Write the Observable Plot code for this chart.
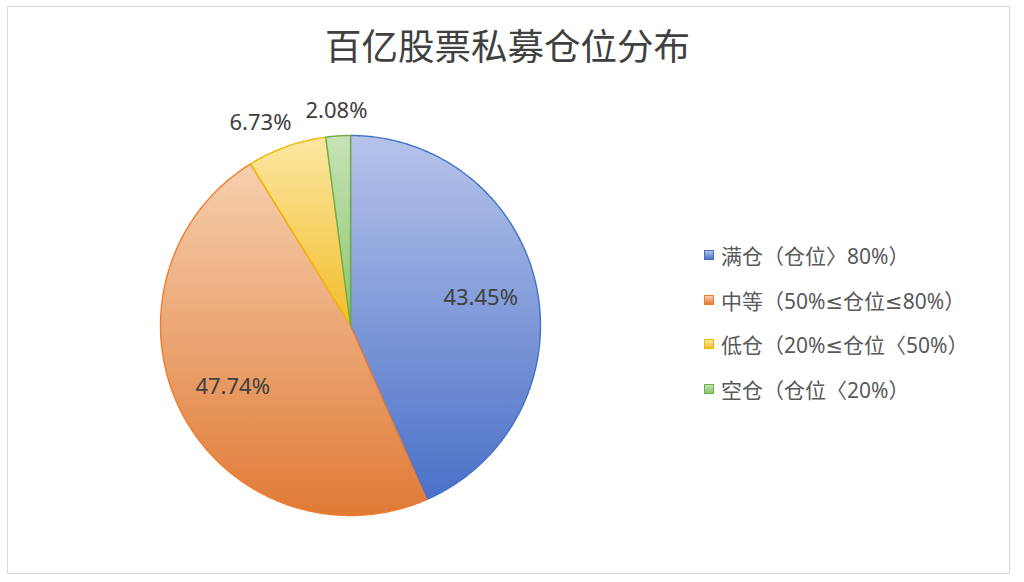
<!DOCTYPE html>
<html>
<head>
<meta charset="utf-8">
<script src="https://cdn.jsdelivr.net/npm/d3@7"></script>
<script src="https://cdn.jsdelivr.net/npm/@observablehq/plot@0.6"></script>
<style>
  html, body { margin: 0; padding: 0; background: #fff; }
  #wrap { position: relative; width: 1024px; height: 582px; overflow: hidden; font-family: "Noto Sans", "Noto Sans CJK SC", sans-serif; }
  #frame { position: absolute; left: 7px; top: 6px; width: 1003px; height: 568px; border: 1px solid #d9d9d9; box-sizing: border-box; }
  #title { position: absolute; left: 0; top: 20px; width: 1015px; text-align: center; font-size: 36.5px; color: #404040; line-height: 50px; font-family: "Noto Sans CJK SC", sans-serif; }
  #chart { position: absolute; left: 0; top: 0; }
  #legend { position: absolute; left: 704px; top: 233px; }
  .item { display: flex; align-items: center; height: 44.5px; font-size: 21px; color: #595959; white-space: nowrap; font-family: "Noto Sans", "DejaVu Sans", "Noto Sans CJK SC", sans-serif; }
  .sw { width: 10px; height: 10px; margin-right: 7px; box-sizing: border-box; }
</style>
</head>
<body>
<div id="wrap">
  <div id="frame"></div>
  <div id="title"></div>
  <div id="chart"></div>
  <div id="legend"></div>
</div>
<script>
const titleText = "百亿股票私募仓位分布";
const categories = ["满仓（仓位〉80%）", "中等（50%≤仓位≤80%）", "低仓（20%≤仓位〈50%）", "空仓（仓位〈20%）"];
const values = [43.45, 47.74, 6.73, 2.08];
const strokeColors = ["#4472c4", "#ed7d31", "#f2b800", "#70ad47"];
const lightColors = ["#b6c4ea", "#f6cfae", "#fce7a2", "#c6e3b6"];
const darkColors = ["#4a70c8", "#e07a36", "#f1bd2a", "#8cc66c"];

document.getElementById("title").textContent = titleText;

const arcs = d3.pie().sort(null).value(d => d)(values);

// polygons for each slice (unit circle, y up)
const slices = arcs.map((a, i) => {
  const pts = [{x: 0, y: 0, i}];
  const n = Math.max(2, Math.ceil((a.endAngle - a.startAngle) / (Math.PI / 360)));
  for (let k = 0; k <= n; k++) {
    const t = a.startAngle + (a.endAngle - a.startAngle) * k / n;
    pts.push({x: Math.sin(t), y: Math.cos(t), i});
  }
  pts.push({x: 0, y: 0, i});
  return pts;
});

// labels: inside for large slices, outside for small ones
const labels = arcs.map((a, i) => {
  const mid = (a.startAngle + a.endAngle) / 2;
  const inside = values[i] > 10;
  const r = inside ? 0.7 : 1.13;
  return {x: Math.sin(mid) * r, y: Math.cos(mid) * r, text: values[i].toFixed(2) + "%", inside};
});
// simple collision avoidance for outside labels (pixel scale factor 190)
const outs = labels.filter(l => !l.inside);
for (let k = outs.length - 2; k >= 0; k--) {
  const a = outs[k], b = outs[k + 1];
  const minDx = 76 / 190;
  if (Math.abs(a.x - b.x) < minDx && Math.abs(a.y - b.y) < 24 / 190) a.x = b.x - minDx;
}

const cx = 350, cy = 325, R = 190;
const marks = slices.map((pts, i) =>
  Plot.line(pts, {x: "x", y: "y", fill: `url(#grad${i})`, stroke: strokeColors[i], strokeWidth: 1.4, strokeLinejoin: "round", curve: "linear"})
);
marks.push(Plot.text(labels, {x: "x", y: "y", text: "text", fontSize: 22, fill: "#404040", fontFamily: "Noto Sans, Noto Sans CJK SC, sans-serif"}));

const svg = Plot.plot({
  width: 700,
  height: 582,
  margin: 0,
  x: {type: "linear", domain: [-1, 1], range: [cx - R, cx + R], axis: null},
  y: {type: "linear", domain: [-1, 1], range: [cy + R, cy - R], axis: null},
  style: {background: "transparent", overflow: "visible"},
  marks
});

const defs = d3.select(svg).insert("defs", ":first-child");
values.forEach((v, i) => {
  const g = defs.append("linearGradient").attr("id", `grad${i}`).attr("x1", 0).attr("y1", 0).attr("x2", 0).attr("y2", 1);
  g.append("stop").attr("offset", "0%").attr("stop-color", lightColors[i]);
  g.append("stop").attr("offset", "100%").attr("stop-color", darkColors[i]);
});
document.getElementById("chart").appendChild(svg);

const legend = d3.select("#legend");
categories.forEach((c, i) => {
  const it = legend.append("div").attr("class", "item");
  it.append("div").attr("class", "sw")
    .style("background", `linear-gradient(${lightColors[i]}, ${darkColors[i]})`)
    .style("border", `1px solid ${strokeColors[i]}`);
  it.append("span").text(c);
});
</script>
</body>
</html>
